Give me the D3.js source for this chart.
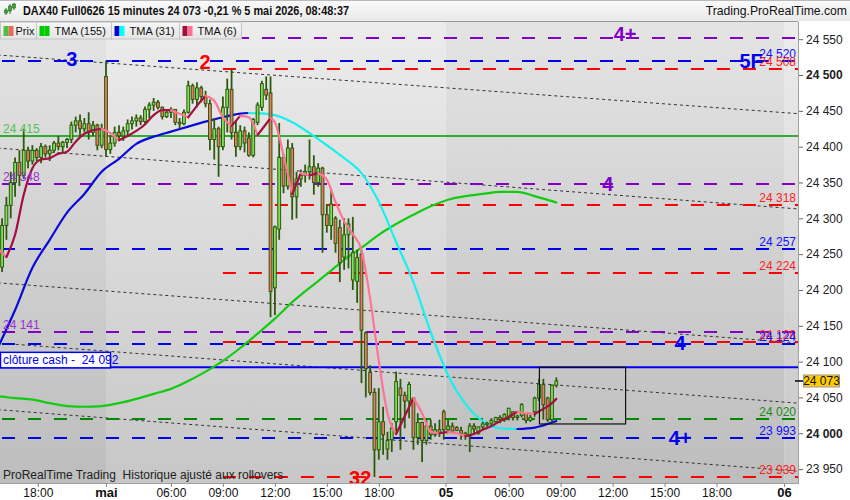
<!DOCTYPE html>
<html><head><meta charset="utf-8">
<script src="https://cdn.jsdelivr.net/npm/d3@7"></script>
<style>
body{margin:0;background:#fff;}
svg{display:block;font-family:"Liberation Sans",Arial,sans-serif;}
</style>
</head><body>
<svg id="c" width="850" height="500"></svg>
<script>
// ---------------- DATA ----------------
// 15-minute candles [open, high, low, close], bar index 0..129
const ohlc = [
[24205,24243,24196,24232],[24232,24300,24225,24290],[24290,24330,24270,24318],[24318,24365,24300,24350],
[24350,24385,24330,24378],[24378,24395,24345,24360],[24360,24425,24355,24395],[24395,24400,24370,24380],
[24380,24402,24375,24395],[24395,24398,24380,24385],[24385,24405,24377,24400],[24400,24403,24385,24390],
[24390,24402,24380,24395],[24395,24408,24392,24405],[24405,24415,24395,24400],[24400,24408,24392,24406],
[24406,24412,24398,24410],[24410,24435,24405,24430],[24430,24442,24420,24436],[24436,24445,24415,24425],
[24425,24440,24420,24432],[24432,24448,24410,24420],[24420,24436,24415,24430],[24430,24432,24395,24402],
[24402,24432,24398,24425],[24498,24520,24386,24396],[24396,24416,24390,24405],[24405,24428,24400,24420],
[24420,24430,24410,24415],[24415,24428,24408,24422],[24422,24438,24415,24432],[24432,24442,24424,24436],
[24436,24445,24428,24440],[24440,24444,24430,24435],[24435,24456,24432,24452],[24452,24462,24440,24458],
[24458,24468,24450,24462],[24462,24465,24452,24455],[24455,24456,24438,24442],[24442,24452,24440,24448],
[24448,24455,24440,24452],[24452,24452,24430,24434],[24434,24440,24426,24432],[24432,24452,24430,24448],
[24448,24492,24446,24485],[24485,24488,24460,24466],[24466,24490,24455,24482],[24482,24485,24462,24470],
[24470,24478,24455,24460],[24460,24466,24395,24410],[24410,24440,24382,24425],[24425,24428,24358,24400],
[24400,24470,24395,24455],[24455,24495,24420,24480],[24480,24508,24410,24420],[24420,24437,24386,24400],
[24400,24430,24395,24422],[24422,24428,24392,24405],[24412,24420,24386,24388],[24388,24440,24385,24438],
[24434,24462,24430,24458],[24455,24492,24450,24488],[24480,24498,24465,24472],[24475,24498,24162,24198],
[24203,24290,24165,24288],[24285,24433,24270,24385],[24385,24390,24335,24345],[24345,24410,24340,24398],
[24398,24405,24298,24330],[24330,24365,24300,24355],[24355,24368,24344,24360],[24360,24375,24350,24365],
[24365,24410,24354,24372],[24372,24388,24333,24350],[24350,24377,24344,24370],[24370,24372,24252,24305],
[24305,24320,24280,24290],[24290,24342,24270,24320],[24300,24303,24252,24265],[24287,24298,24211,24238],
[24246,24300,24228,24277],[24277,24300,24230,24292],[24214,24302,24200,24252],[24212,24256,24182,24245],
[24250,24256,24070,24144],[24140,24142,24050,24090],[24085,24095,24053,24057],[24057,24063,23939,23977],
[23977,24063,23963,24016],[24016,24037,23970,23998],[23978,24002,23963,23990],[23991,24014,23974,24007],
[24016,24086,24000,24072],[24063,24076,23977,24053],[24053,24058,24007,24045],[24045,24072,24021,24068],
[24049,24050,23977,23994],[23994,24028,23984,24015],[24015,24016,23960,23990],[23990,24021,23984,24010],
[24010,24019,23991,23998],[23998,24014,23995,24005],[24005,24019,23995,24000],[24030,24033,23991,24005],
[24005,24019,24000,24010],[24010,24015,24000,24003],[24008,24010,24003,24004],[24004,24009,23991,24000],
[24000,24002,23991,23996],[23996,24014,23974,24010],[24010,24014,24000,24006],[24000,24009,23998,24009],
[24009,24016,24005,24013],[24012,24016,24009,24014],[24014,24021,24010,24018],[24016,24023,24014,24022],
[24022,24025,24014,24019],[24019,24028,24016,24026],[24021,24035,24018,24035],[24030,24030,24018,24022],
[24022,24026,24018,24024],[24025,24042,24022,24040],[24028,24028,24014,24018],[24018,24026,24016,24022],
[24030,24051,24023,24049],[24049,24076,24045,24068],[24068,24076,24019,24040],[24049,24051,24016,24019],
[24019,24068,24016,24067],[24067,24078,24064,24073]
];
// moving averages [bar index, value]
const tma6 = [[0,24258],[2,24246],[4,24277],[6,24333],[8,24370],[10,24382],[12,24384],[14,24390],[16,24393],
[18,24407],[20,24418],[22,24423],[24,24425],[26,24419],[28,24409],[30,24415],[32,24422],[34,24431],[36,24444],
[38,24451],[40,24451],[42,24446],[44,24441],[46,24457],[48,24471],[50,24464],[52,24441],[54,24429],[56,24443],
[58,24441],[60,24416],[62,24432],[63,24440],[64,24434],[66,24388],[68,24334],[70,24363],[72,24360],[74,24363],
[76,24354],[78,24323],[80,24296],[82,24278],[84,24256],[86,24188],[88,24101],[90,24028],[92,23999],[94,24024],
[96,24049],[98,24028],[100,24002],[102,24000],[104,24002],[106,24000],[108,23996],[110,23999],[112,24005],
[114,24010],[116,24017],[118,24023],[120,24030],[122,24028],[124,24027],[126,24034],[128,24042],[129,24048]];
const tma31 = [[0,24119],[4,24172],[8,24231],[12,24270],[16,24308],[20,24334],[24,24365],[28,24383],[32,24404],
[36,24414],[40,24421],[44,24428],[48,24435],[52,24441],[56,24446],[58,24447],[60,24446.5],[64,24444],[68,24434],
[72,24419],[76,24402],[80,24384],[84,24363],[88,24323],[92,24267],[96,24211],[100,24141],[104,24081],[108,24041],
[112,24017],[116,24007],[120,24006],[124,24008],[128,24015],[129,24017]];
const tma155 = [[0,24052],[4,24049],[8,24047],[12,24042],[16,24038],[20,24037],[24,24038],[28,24042],[32,24048],
[36,24055],[40,24062],[44,24073],[48,24086],[52,24101],[56,24119],[60,24139],[64,24160],[68,24183],[72,24203],
[76,24222],[80,24242],[84,24259],[88,24277],[92,24292],[96,24305],[100,24317],[104,24326],[108,24331],
[112,24334],[116,24337],[120,24337],[124,24331],[128,24324],[129,24322]];

// dashed horizontal levels: value, colour key, first bar, label side
const levelValues = [24552, 24520, 24508, 24348, 24318, 24257, 24224, 24141, 24128, 24124, 24020, 23993, 23939];
const levelColors = ["purple","blue","red","purple","red","blue","red","purple","red","blue","green","blue","red"];
const levelStart  = [0, 0, 52, 0, 52, 0, 52, 0, 52, 0, 0, 0, 52];
const levelLabel  = ["", "right", "right", "left", "right", "right", "right", "left", "right", "right", "right", "right", "right"];
// solid levels
const solidValues = [24415, 24092];
const solidColors = ["green2", "blue"];
// trend lines [bar0, price0, bar1, price1]
const trendLines = [[0,24528,185,24446],[0,24398,185,24313],[0,24210,185,24126],[0,24126,185,24042],[0,24033,185,23947]];
// box [bar0, bar1, priceTop, priceBottom]
const boxZone = [125.1, 145, 24092, 24013];
// annotation labels
const annText  = ["3", "2", "4+", "5F", "4", "4", "4+", "32"];
const annBar   = [17.1, 47.9, 144.9, 174, 140.9, 157.6, 157.6, 83.7];
const annPrice = [24522, 24518, 24557, 24520, 24348, 24126, 23994, 23938];
const annColor = ["blue","red","purple","blue","purple","blue","blue","red"];
// axis ticks
const yTicks = d3.range(23950, 24551, 50);
const xTickBars = [9.25, 25, 40, 52, 64, 76, 88, 103.4, 118, 130, 142, 154, 166, 181.6];
const xTickLabels = ["18:00","mai","06:00","09:00","12:00","15:00","18:00","05","06:00","09:00","12:00","15:00","18:00","06"];
const xTickBold = [false,true,false,false,false,false,false,true,false,false,false,false,false,true];
const dayBands = [[-2, 25, "d"], [25, 103.4, "l"], [103.4, 181.6, "d"], [181.6, 190, "l"]];
const lastPrice = 24073;
const closeCash = 24092;
const titleText = "DAX40 Full0626 15 minutes 24 073 -0,21 % 5 mai 2026, 08:48:37";
const legendNames = ["Prix", "TMA (155)", "TMA (31)", "TMA (6)"];

// ---------------- DRAW ----------------
const COL = {purple:"#8000c8", blue:"#0000f0", red:"#ff0000", green:"#008a00", green2:"#33aa33"};
const LBL = {purple:"#9a30d0", blue:"#1010ff", red:"#ff2020", green:"#1a8a1a", green2:"#55c055"};
const fmt = d3.formatLocale({decimal:",", thousands:" ", grouping:[3], currency:["","€"]}).format(",d");

const plot = {l:0, r:798, t:22, b:483};
const svg = d3.select("#c");
const x = d3.scaleLinear().domain([0, 129]).range([-2.25, -2.25 + 129*4.33]);
const y = d3.scaleLinear().domain([23930.6, 24574]).range([plot.b, plot.t]);

const defs = svg.append("defs");
defs.append("clipPath").attr("id","clip").append("rect")
  .attr("x",plot.l).attr("y",plot.t).attr("width",plot.r-plot.l).attr("height",plot.b-plot.t);
function grad(id, c0, c1){
  const g = defs.append("linearGradient").attr("id",id).attr("x1",0).attr("y1",0).attr("x2",0).attr("y2",1);
  g.append("stop").attr("offset","0%").attr("stop-color",c0);
  g.append("stop").attr("offset","100%").attr("stop-color",c1);
}
grad("bgD","#e4e4e4","#bdbdbd");
grad("bgL","#ececec","#c7c7c7");
grad("hdr","#fbfbfb","#e9e9e9");
grad("leg","#f6f6f6","#e4e4e4");

const g = svg.append("g").attr("clip-path","url(#clip)");
// day bands
g.selectAll("rect.band").data(dayBands).enter().append("rect")
  .attr("x", d=>x(d[0])).attr("width", d=>x(d[1])-x(d[0]))
  .attr("y", plot.t).attr("height", plot.b-plot.t)
  .attr("fill", d=>d[2]==="d"?"url(#bgD)":"url(#bgL)");

// trend lines
g.selectAll("line.trend").data(trendLines).enter().append("line")
  .attr("x1", d=>x(d[0])).attr("y1", d=>y(d[1])).attr("x2", d=>x(d[2])).attr("y2", d=>y(d[3]))
  .attr("stroke","#333").attr("stroke-width",1).attr("stroke-dasharray","3,3");

// dashed levels
levelValues.forEach((v,k)=>{
  g.append("line").attr("x1", Math.max(plot.l, x(levelStart[k])) + (levelStart[k]?0:2)).attr("x2", plot.r)
   .attr("y1", Math.round(y(v))).attr("y2", Math.round(y(v)))
   .attr("stroke", COL[levelColors[k]]).attr("stroke-width",2.2).attr("stroke-dasharray","13,13");
});
// solid levels
solidValues.forEach((v,k)=>{
  g.append("line").attr("x1",plot.l).attr("x2",plot.r).attr("y1",y(v)).attr("y2",y(v))
   .attr("stroke",COL[solidColors[k]]).attr("stroke-width",2);
});

// colored MA lines by direction
function drawMA(data, upC, downC, single){
  const runs = [];
  for(let k=0;k<data.length-1;k++){
    const dir = single ? 1 : (data[k+1][1] >= data[k][1] ? 1 : -1);
    if(runs.length && runs[runs.length-1].dir===dir) runs[runs.length-1].pts.push(data[k+1]);
    else runs.push({dir, pts:[data[k], data[k+1]]});
  }
  const line = d3.line().x(d=>x(d[0])).y(d=>y(d[1])).curve(d3.curveMonotoneX);
  g.selectAll(null).data(runs).enter().append("path")
    .attr("d", r=>line(r.pts)).attr("fill","none")
    .attr("stroke", r=>r.dir>0?upC:downC).attr("stroke-width",2.2).attr("stroke-linecap","round");
}
drawMA(tma155, "#12cc12", "#12cc12", true);
drawMA(tma31, "#0a0ad8", "#18f0f0", false);

// candles
const cg = g.append("g");
ohlc.forEach((d,i)=>{
  const [o,h,l,c] = d, cx = x(i);
  cg.append("line").attr("x1",cx).attr("x2",cx).attr("y1",y(h)).attr("y2",y(l))
    .attr("stroke","#2c5a0c").attr("stroke-width",1.8);
  const top = y(Math.max(o,c)), bot = y(Math.min(o,c));
  cg.append("rect").attr("x",cx-1.4).attr("width",2.8).attr("y",top).attr("height",Math.max(0.8,bot-top))
    .attr("fill", c>=o ? "#7fe05a" : "#ea7a62").attr("stroke","#2c5a0c").attr("stroke-width",1);
});

drawMA(tma6, "#a3103e", "#ff7595", false);

// box
g.append("rect").attr("x",x(boxZone[0])).attr("y",y(boxZone[2]))
  .attr("width",x(boxZone[1])-x(boxZone[0])).attr("height",y(boxZone[3])-y(boxZone[2]))
  .attr("fill","none").attr("stroke","#111").attr("stroke-width",1.2);

// level value labels
levelValues.forEach((v,k)=>{
  if(!levelLabel[k]) return;
  const right = levelLabel[k]==="right";
  g.append("text").attr("x", right?796:3).attr("y", y(v)-3)
   .attr("text-anchor", right?"end":"start").attr("font-size",12)
   .attr("fill", LBL[levelColors[k]]).text(fmt(v));
});
g.append("text").attr("x",3).attr("y",y(solidValues[0])-3).attr("font-size",12)
  .attr("fill",LBL.green2).text(fmt(solidValues[0]));

// annotation labels
annText.forEach((t,k)=>{
  g.append("text").attr("x",x(annBar[k])).attr("y",y(annPrice[k])).attr("dy","0.36em")
   .attr("text-anchor","middle").attr("font-size",20).attr("font-weight","bold")
   .attr("fill", COL[annColor[k]]).text(t);
});

// cloture cash box
g.append("rect").attr("x",0.5).attr("y",y(closeCash)-15).attr("width",110).attr("height",15.5)
  .attr("fill","#fff").attr("stroke","#0000f0").attr("stroke-width",1.5);
g.append("text").attr("x",3).attr("y",y(closeCash)-3.5).attr("font-size",12).attr("fill","#0000f0")
  .attr("xml:space","preserve").text("clôture cash -  " + fmt(closeCash));

// bottom note
g.append("text").attr("x",3).attr("y",479).attr("font-size",12).attr("fill","#222")
  .attr("xml:space","preserve").text("ProRealTime Trading  Historique ajusté aux rollovers");

// plot frame
svg.append("line").attr("x1",0).attr("x2",plot.r).attr("y1",plot.t-0.5).attr("y2",plot.t-0.5).attr("stroke","#9a9a9a");

// right axis
const ax = svg.append("g");
ax.append("rect").attr("x",plot.r).attr("y",plot.t).attr("width",850-plot.r).attr("height",plot.b-plot.t).attr("fill","#fff");
ax.append("line").attr("x1",plot.r+0.5).attr("x2",plot.r+0.5).attr("y1",plot.t).attr("y2",plot.b).attr("stroke","#a0a0a0");
const yAxis = d3.axisRight(y).tickValues(yTicks).tickSize(4).tickPadding(3).tickFormat(fmt);
const ya = ax.append("g").attr("transform",`translate(${plot.r+1},0)`).call(yAxis);
ya.select(".domain").remove();
ya.selectAll(".tick line").attr("stroke","#666");
ya.selectAll(".tick text").attr("font-size",12).attr("fill","#222")
  .attr("font-family","Liberation Sans, Arial, sans-serif")
  .attr("font-weight", d=> (d%500===0) ? "bold" : "normal");
// last price marker
ax.append("line").attr("x1",plot.r-3).attr("x2",plot.r+5).attr("y1",y(lastPrice)).attr("y2",y(lastPrice)).attr("stroke","#000").attr("stroke-width",1.5);
ax.append("rect").attr("x",803.5).attr("y",y(lastPrice)-6).attr("width",36).attr("height",12)
  .attr("fill","#ffcc00").attr("stroke","#999");
ax.append("text").attr("x",821.5).attr("y",y(lastPrice)).attr("dy","0.36em").attr("text-anchor","middle")
  .attr("font-size",12).attr("fill","#111").text(fmt(lastPrice));

// bottom axis
const bx = svg.append("g");
bx.append("rect").attr("x",0).attr("y",plot.b).attr("width",850).attr("height",500-plot.b).attr("fill","#fff");
bx.append("line").attr("x1",0).attr("x2",plot.r+1).attr("y1",plot.b+0.5).attr("y2",plot.b+0.5).attr("stroke","#a0a0a0");
const xAxis = d3.axisBottom(x).tickValues(xTickBars).tickSize(4).tickPadding(1).tickFormat((d,i)=>xTickLabels[i]);
const xa = bx.append("g").attr("transform",`translate(0,${plot.b})`).call(xAxis);
xa.select(".domain").remove();
xa.selectAll(".tick line").attr("stroke","#888");
xa.selectAll(".tick text").attr("fill","#111").attr("font-family","Liberation Sans, Arial, sans-serif")
  .attr("font-size",(d,i)=>xTickBold[i]?13:12).attr("font-weight",(d,i)=>xTickBold[i]?"bold":"normal");

// header
const hd = svg.append("g");
hd.append("rect").attr("x",0).attr("y",0).attr("width",850).attr("height",21).attr("fill","url(#hdr)");
hd.append("line").attr("x1",0).attr("x2",850).attr("y1",0.5).attr("y2",0.5).attr("stroke","#bbb");
// candle icon
[[6,8,15,10,13,"#3a3"],[10,4,14,6,11,"#3a3"],[14,3,10,4,8,"#3a3"]].forEach(c=>{
  hd.append("line").attr("x1",c[0]).attr("x2",c[0]).attr("y1",c[1]).attr("y2",c[2]).attr("stroke","#2a6a1a");
  hd.append("rect").attr("x",c[0]-1.5).attr("y",c[3]).attr("width",3).attr("height",c[4]-c[3]).attr("fill",c[5]).attr("stroke","#2a6a1a").attr("stroke-width",0.6);
});
hd.append("text").attr("x",23).attr("y",15).attr("font-size",12.5).attr("font-weight","bold").attr("fill","#111")
  .attr("textLength",326).attr("lengthAdjust","spacingAndGlyphs").text(titleText);
hd.append("text").attr("x",847).attr("y",15).attr("text-anchor","end").attr("font-size",12.2).attr("fill","#111").text("Trading.ProRealTime.com");

// legend
const legW = [36, 75, 68, 62];
const legSw = [["#4cc040","#e86a5a"],["#00cc00","#00cc00"],["#0000cc","#00ffff"],["#a0103c","#ff6f96"]];
let lx = 0.5;
legendNames.forEach((n,k)=>{
  const lg = svg.append("g").attr("transform",`translate(${lx},22)`);
  lg.append("rect").attr("width",legW[k]).attr("height",17).attr("fill","url(#leg)").attr("stroke","#c4c4c4");
  lg.append("rect").attr("x",3).attr("y",4).attr("width",5).attr("height",10).attr("fill",legSw[k][0]);
  lg.append("rect").attr("x",8).attr("y",4).attr("width",5).attr("height",10).attr("fill",legSw[k][1]);
  lg.append("text").attr("x",k===0?15:18).attr("y",13).attr("font-size",11).attr("fill","#111").text(n);
  lx += legW[k];
});
</script>
</body></html>
